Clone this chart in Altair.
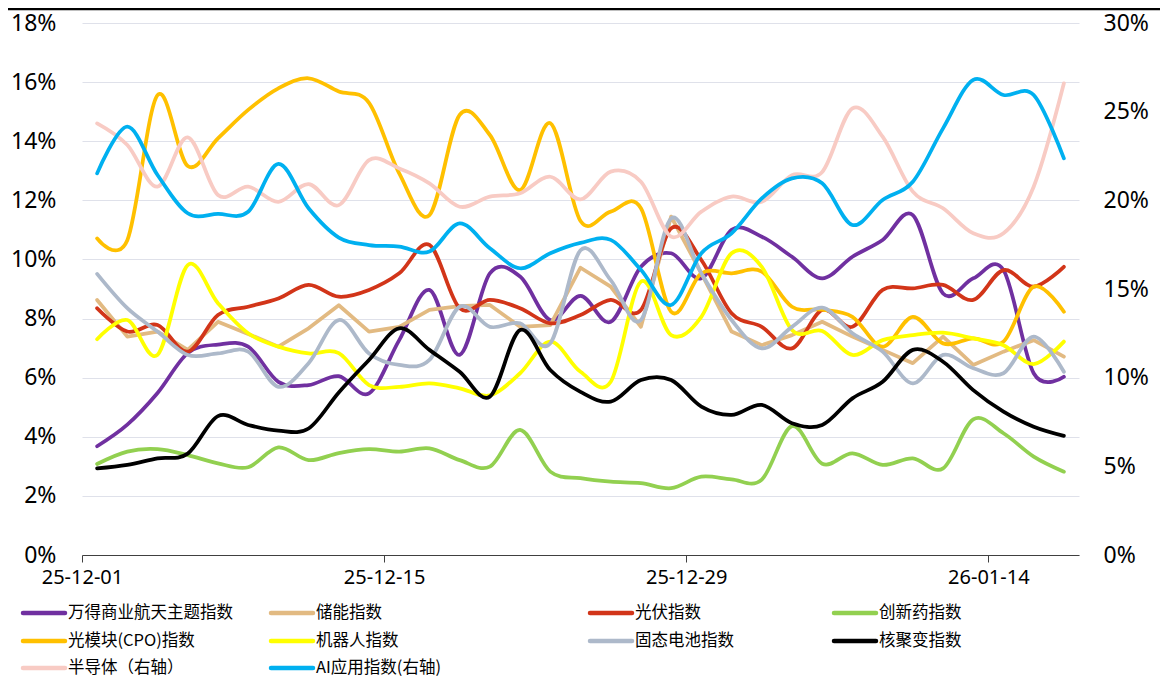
import altair as alt
import pandas as pd

# ---- data (values in %) ----
tick_labels = ["25-12-01", "25-12-15", "25-12-29", "26-01-14"]
n_days = 33

names = ["万得商业航天主题指数", "储能指数", "光伏指数", "创新药指数",
         "光模块(CPO)指数", "机器人指数", "固态电池指数", "核聚变指数",
         "半导体（右轴）", "AI应用指数(右轴)"]
colors = ["#7030A0", "#E2BA82", "#D23519", "#92D050",
          "#FFC000", "#FFFF00", "#ADB9CA", "#000000",
          "#F8CBC4", "#00B0F0"]

commercial_space = [3.68, 4.41, 5.48, 6.83, 7.12, 7.05, 5.86, 5.75, 6.05, 5.47, 7.27, 8.97, 6.77, 9.53, 9.42, 7.95,
                    8.77, 7.89, 9.75, 10.21, 9.36, 11.0, 10.77, 10.09, 9.36, 10.09, 10.66, 11.5, 8.85, 9.36, 9.64, 6.15, 6.03]
energy_storage = [8.63, 7.39, 7.56, 6.94, 7.89, 7.48, 7.05, 7.67, 8.45, 7.56, 7.72, 8.29, 8.42, 8.46, 7.72, 7.78,
                  9.72, 9.08, 7.72, 11.45, 9.53, 7.56, 7.10, 7.44, 7.89, 7.39, 6.94, 6.49, 7.39, 6.43, 6.88, 7.27, 6.71]
photovoltaic = [8.35, 7.56, 7.78, 6.88, 8.12, 8.40, 8.68, 9.14, 8.74, 8.97, 9.53, 10.49, 8.35, 8.63, 8.35, 7.84,
                8.12, 8.63, 8.29, 11.05, 9.98, 8.18, 7.72, 6.99, 8.29, 7.72, 8.97, 9.02, 9.14, 8.63, 9.64, 9.08, 9.75]
innovative_drug = [3.08, 3.50, 3.58, 3.38, 3.10, 2.97, 3.64, 3.21, 3.45, 3.58, 3.50, 3.61, 3.21, 2.99, 4.23, 2.82,
                   2.60, 2.48, 2.43, 2.26, 2.65, 2.56, 2.55, 4.36, 3.09, 3.44, 3.05, 3.27, 2.93, 4.59, 4.12, 3.33, 2.82]
optical_module = [10.71, 10.65, 15.56, 13.16, 14.10, 15.06, 15.79, 16.13, 15.68, 15.30, 12.91, 11.50, 14.89, 14.21, 12.35, 14.61,
                  11.30, 11.62, 11.73, 8.23, 9.53, 9.53, 9.59, 8.40, 8.30, 8.06, 7.05, 8.06, 7.16, 7.33, 7.22, 9.08, 8.23]
robot = [7.30, 7.95, 6.77, 9.81, 8.52, 7.50, 7.05, 6.82, 6.83, 5.75, 5.69, 5.81, 5.64, 5.40, 6.15, 7.22,
         6.20, 5.86, 9.25, 7.44, 8.06, 10.21, 9.75, 7.61, 7.58, 6.77, 7.27, 7.44, 7.52, 7.33, 7.10, 6.46, 7.22]
solid_battery = [9.51, 8.35, 7.56, 6.77, 6.82, 6.88, 5.69, 6.49, 7.95, 6.82, 6.43, 6.60, 8.40, 7.72, 7.84, 7.16,
                 10.31, 9.30, 7.95, 11.39, 9.53, 7.95, 6.99, 7.72, 8.37, 7.50, 6.88, 5.81, 6.77, 6.32, 6.15, 7.39, 6.20]
fusion = [2.93, 3.05, 3.27, 3.43, 4.70, 4.40, 4.21, 4.28, 5.50, 6.60, 7.67, 6.94, 6.20, 5.36, 7.61, 6.26,
          5.52, 5.19, 5.92, 5.92, 5.02, 4.74, 5.08, 4.46, 4.40, 5.30, 5.86, 6.94, 6.54, 5.58, 4.85, 4.34, 4.03]
semiconductor = [24.34, 23.12, 20.77, 23.55, 20.30, 20.77, 19.92, 20.92, 19.73, 22.27, 21.80, 20.96, 19.64, 20.21, 20.40, 21.33,
                 20.06, 21.62, 21.05, 17.95, 19.36, 20.21, 19.92, 21.42, 21.60, 25.19, 23.59, 20.49, 19.55, 18.14, 18.14, 20.77, 26.60]
ai_app = [21.52, 24.15, 21.43, 19.27, 19.23, 19.36, 22.05, 19.55, 17.90, 17.48, 17.39, 17.11, 18.70, 17.30, 16.17, 17.02,
          17.60, 17.77, 16.08, 14.10, 17.02, 18.14, 20.11, 21.24, 20.96, 18.61, 20.02, 21.05, 24.06, 26.79, 25.94, 25.94, 22.37]

left_series = [commercial_space, energy_storage, photovoltaic, innovative_drug,
               optical_module, robot, solid_battery, fusion]
right_series = [semiconductor, ai_app]
smooth = [True, False, True, True, True, True, True, True, True, True]

W, H = 997, 532
LINE_W = 3.75
FONT = "Noto Sans"
CJK = "Noto Sans CJK SC"

x_scale = alt.Scale(domain=[-0.5, n_days - 0.5], nice=False, zero=False)
label_expr = "[" + ",".join("'%s'" % t for t in tick_labels) + "][round((datum.value + 0.5) / 10)]"
x_axis = alt.Axis(values=[-0.5, 9.5, 19.5, 29.5], labelExpr=label_expr, grid=False,
                  domainColor="#404040", domainWidth=1, tickColor="#404040", tickSize=7,
                  labelFont=FONT, labelFontSize=20, labelColor="#000000", labelPadding=5,
                  labelFlush=False, labelOverlap=False, title=None)

left_axis = alt.Axis(values=[round(i * 0.02, 4) for i in range(10)], format=".0%", domain=False, ticks=False,
                     tickSize=0, grid=True, gridColor="#DFE1EA", gridWidth=1,
                     labelFont=FONT, labelFontSize=23, labelColor="#000000", labelPadding=26, title=None)
right_axis = alt.Axis(values=[round(i * 0.05, 4) for i in range(7)], format=".0%", orient="right", domain=False,
                      ticks=False, tickSize=0, grid=False,
                      labelFont=FONT, labelFontSize=23, labelColor="#000000", labelPadding=24, title=None)


def series_df(vals):
    return pd.DataFrame({"i": list(range(len(vals))), "v": [v / 100 for v in vals]})


def line_layer(vals, color, is_smooth, scale, axis):
    kw = dict(interpolate="cardinal", tension=0) if is_smooth else dict(interpolate="linear")
    return alt.Chart(series_df(vals)).mark_line(color=color, strokeWidth=LINE_W, strokeCap="round",
                                                 strokeJoin="round", **kw).encode(
        x=alt.X("i:Q", scale=x_scale, axis=x_axis),
        y=alt.Y("v:Q", scale=scale, axis=axis),
    )


left_scale = alt.Scale(domain=[0, 0.18], nice=False, zero=True)
right_scale = alt.Scale(domain=[0, 0.30], nice=False, zero=True)

left_layers = [line_layer(s, colors[k], smooth[k], left_scale, left_axis) for k, s in enumerate(left_series)]
right_layers = [line_layer(s, colors[8 + k], smooth[8 + k], right_scale, right_axis) for k, s in enumerate(right_series)]

# ---- custom legend (4 columns x 3 rows) ----
col_x = [-59, 189, 508, 752]
row_y = [590, 618, 645]
leg = pd.DataFrame({
    "name": names,
    "color": colors,
    "lx": [col_x[k % 4] for k in range(len(names))],
    "ly": [row_y[k // 4] for k in range(len(names))],
})
leg["lx2"] = leg["lx"] + 42
leg["tx"] = leg["lx"] + 45

color_enc = alt.Color("name:N", scale=alt.Scale(domain=names, range=colors), legend=None)
leg_lines = alt.Chart(leg).mark_rule(strokeWidth=4.5, strokeCap="round").encode(
    x=alt.X("lx:Q", scale=None, axis=None), x2="lx2:Q",
    y=alt.Y("ly:Q", scale=None, axis=None), color=color_enc)
leg_text = alt.Chart(leg).mark_text(align="left", baseline="middle", font=CJK, fontSize=16.5,
                                    color="#000000").encode(
    x=alt.X("tx:Q", scale=None, axis=None), y=alt.Y("ly:Q", scale=None, axis=None), text="name:N")

top_line = alt.Chart(pd.DataFrame({"a": [0]})).mark_rule(color="#000000", strokeWidth=2.5).encode(
    x=alt.value(-74), x2=alt.value(W + 81), y=alt.value(-14))

left_group = alt.layer(*left_layers, leg_lines, leg_text, top_line)
right_group = alt.layer(*right_layers)

chart = alt.layer(left_group, right_group).resolve_scale(y="independent").properties(
    width=W, height=H,
    autosize=alt.AutoSizeParams(type="none"),
    padding={"left": 74, "top": 15, "right": 81, "bottom": 121},
).configure_view(stroke=None)

chart.save("out.html", embed_options={"renderer": "svg", "actions": False})
